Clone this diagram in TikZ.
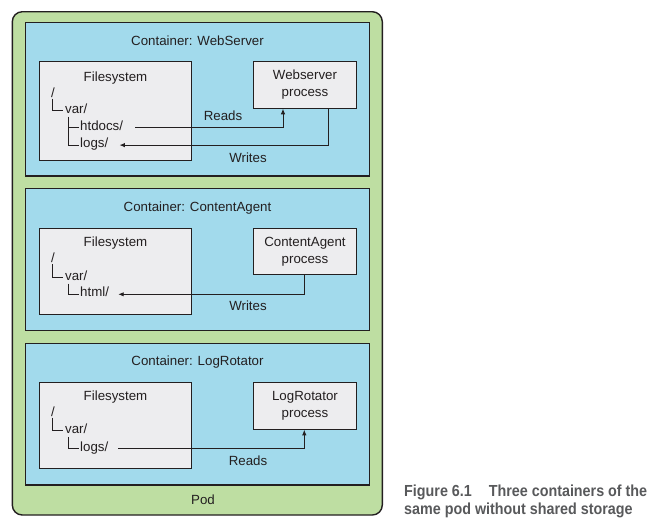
\documentclass[tikz,border=0pt]{standalone}
\usepackage{fontspec}
\setmainfont{Liberation Sans}
\newfontfamily\capfont[FakeStretch=0.895]{Liberation Sans}
\usetikzlibrary{arrows.meta}
\definecolor{podgreen}{HTML}{BEDEA2}
\definecolor{ctblue}{HTML}{A2DAEC}
\definecolor{fsgray}{HTML}{EDEDEF}
\definecolor{ink}{HTML}{231F20}
\definecolor{capgray}{HTML}{58595B}
\tikzset{
  podbox/.style={draw=ink, fill=podgreen, line width=1.4pt, rounded corners=10pt, inner sep=0pt, rectangle},
  ctbox/.style={draw=ink, fill=ctblue, line width=1.2pt, inner sep=0pt, rectangle},
  fsbox/.style={draw=ink, fill=fsgray, line width=0.9pt, inner sep=0pt, rectangle},
  procbox/.style={draw=ink, fill=fsgray, line width=0.9pt, inner sep=0pt, rectangle, align=center, text=ink,
     font=\fontsize{13.3}{16.5}\selectfont},
  txt/.style={inner sep=0pt, text=ink, font=\fontsize{13.3}{16.5}\selectfont},
  tree/.style={draw=ink, line width=0.8pt},
  arr/.style={draw=ink, line width=0.9pt, -{Latex[length=5.5pt,width=4.5pt]}},
  captxt/.style={inner sep=0pt, text=capgray, font=\capfont\bfseries\fontsize{16}{17.5}\selectfont, anchor=base west}
}
\begin{document}
\begin{tikzpicture}[x=1pt,y=-1pt]
\useasboundingbox (0,0) rectangle (660,531);
\fill[white] (0,0) rectangle (660,531);
% pod
\node[podbox, minimum width=370pt, minimum height=503.3pt] (pod) at (197.3,263.35) {};
\node[txt, anchor=base] (podlbl) at (203,504) {Pod};
% containers
\node[ctbox, minimum width=343.6pt, minimum height=153.3pt] (c1) at (197.5,99.35) {};
\node[ctbox, minimum width=343.6pt, minimum height=142pt] (c2) at (197.5,259.3) {};
\node[ctbox, minimum width=343.6pt, minimum height=141.7pt] (c3) at (197.5,414.15) {};
\node[txt, anchor=base] (t1) at (197.5,45) {Container: WebServer};
\node[txt, anchor=base] (t2) at (197.5,211.7) {Container: ContentAgent};
\node[txt, anchor=base] (t3) at (197.5,365) {Container: LogRotator};
% filesystem boxes
\node[fsbox, minimum width=152.4pt, minimum height=99.3pt] (fs1) at (115.5,110.65) {};
\node[fsbox, minimum width=152.4pt, minimum height=85.6pt] (fs2) at (115.5,271.5) {};
\node[fsbox, minimum width=152.4pt, minimum height=86pt] (fs3) at (115.5,425.3) {};
% process boxes
\node[procbox, minimum width=103.4pt, minimum height=47.3pt] (p1) at (305,84.65) {Webserver\\process};
\node[procbox, minimum width=103.4pt, minimum height=45.6pt] (p2) at (305,251.5) {ContentAgent\\process};
\node[procbox, minimum width=103.4pt, minimum height=47pt] (p3) at (305,405.8) {LogRotator\\process};
% container 1 filesystem
\node[txt, anchor=base] (fst1) at (115.5,81.7) {Filesystem};
\node[txt, anchor=base west] (r1) at (51,97) {/};
\node[txt, anchor=base west] (var1) at (65,113) {var/};
\node[txt, anchor=base west] (htd1) at (80,130.7) {htdocs/};
\node[txt, anchor=base west] (logs1) at (80,147.7) {logs/};
\draw[tree] ([xshift=1pt,yshift=-1.5pt]r1.base west) |- ([xshift=-2pt,yshift=2.6pt]var1.base west);
\draw[tree] ([xshift=3pt,yshift=-3.5pt]var1.base west) |- ([xshift=-1pt,yshift=2.6pt]logs1.base west);
\draw[tree] ([xshift=-1pt,yshift=3pt]htd1.base west) -- ++(-11.3,0);
\draw[arr] ([xshift=12pt,yshift=3pt]htd1.base east) -| ([xshift=-22pt]p1.south);
\draw[arr] ([xshift=23pt]p1.south) |- ([xshift=11pt,yshift=2.6pt]logs1.base east);
\node[txt, anchor=base] (rd1) at (223,120.7) {Reads};
\node[txt, anchor=base] (wr1) at (248,162.7) {Writes};
% container 2 filesystem
\node[txt, anchor=base] (fst2) at (115.5,246.7) {Filesystem};
\node[txt, anchor=base west] (r2) at (51,262.7) {/};
\node[txt, anchor=base west] (var2) at (65,280) {var/};
\node[txt, anchor=base west] (html2) at (80,296.7) {html/};
\draw[tree] ([xshift=1pt,yshift=-1.5pt]r2.base west) |- ([xshift=-2pt,yshift=2.4pt]var2.base west);
\draw[tree] ([xshift=3pt,yshift=-3.5pt]var2.base west) |- ([xshift=-1pt,yshift=2.4pt]html2.base west);
\draw[arr] ([xshift=-0.7pt]p2.south) |- ([xshift=9pt,yshift=2.4pt]html2.base east);
\node[txt, anchor=base] (wr2) at (248,310) {Writes};
% container 3 filesystem
\node[txt, anchor=base] (fst3) at (115.5,400.7) {Filesystem};
\node[txt, anchor=base west] (r3) at (51,416) {/};
\node[txt, anchor=base west] (var3) at (65,433.3) {var/};
\node[txt, anchor=base west] (logs3) at (80,451.3) {logs/};
\draw[tree] ([xshift=1pt,yshift=-1.5pt]r3.base west) |- ([xshift=-2pt,yshift=2.8pt]var3.base west);
\draw[tree] ([xshift=3pt,yshift=-3.5pt]var3.base west) |- ([xshift=-1pt,yshift=3pt]logs3.base west);
\draw[arr] ([xshift=10pt,yshift=3pt]logs3.base east) -| ([xshift=-0.7pt]p3.south);
\node[txt, anchor=base] (rd3) at (248,465.7) {Reads};
% caption
\node[captxt] (cap1) at (404,496.7) {Figure 6.1\hspace{17pt}Three containers of the};
\node[captxt] (cap2) at (404,514) {same pod without shared storage};
\end{tikzpicture}
\end{document}
